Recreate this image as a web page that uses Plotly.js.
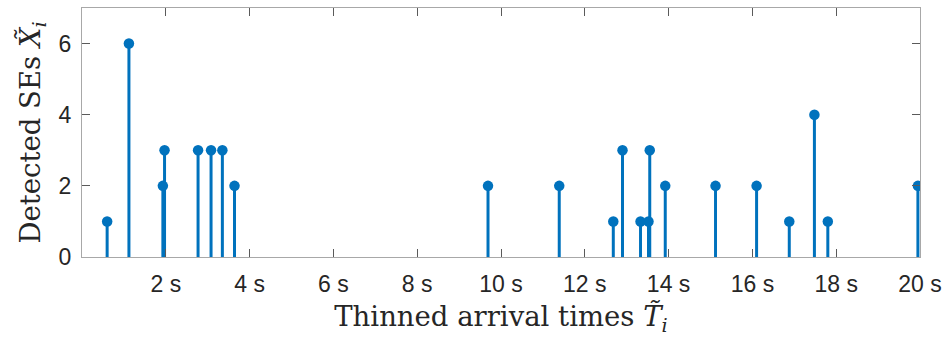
<!DOCTYPE html>
<html>
<head>
<meta charset="utf-8">
<script src="https://cdn.plot.ly/plotly-3.0.1.min.js"></script>
<style>
  html, body { margin: 0; padding: 0; background: #ffffff; }
  #chart { width: 946px; height: 337px; }
</style>
</head>
<body>
<div id="chart"></div>
<script>
// Thinned arrival times (s) and the number of detected SEs at each arrival
const arrivalTimes = [0.60, 1.12, 1.93, 1.97, 2.77, 3.08, 3.35, 3.64, 9.69, 11.39,
                      12.68, 12.90, 13.33, 13.52, 13.55, 13.92, 15.12, 16.10, 16.88,
                      17.48, 17.80, 19.95];
const detectedSEs  = [1, 6, 2, 3, 3, 3, 3, 2, 2, 2,
                      1, 3, 1, 1, 3, 2, 2, 2, 1,
                      4, 1, 2];

const xTickVals = [2, 4, 6, 8, 10, 12, 14, 16, 18, 20];
const xTickText = ['2 s', '4 s', '6 s', '8 s', '10 s', '12 s', '14 s', '16 s', '18 s', '20 s'];
const yTickVals = [0, 2, 4, 6];

const stemColor = '#0072BD';

// stems: a vertical segment from the baseline up to each value
const stemX = [], stemY = [];
arrivalTimes.forEach((t, i) => {
  stemX.push(t, t, null);
  stemY.push(0, detectedSEs[i], null);
});

const traces = [
  {
    type: 'scatter', mode: 'lines',
    x: stemX, y: stemY,
    line: { color: stemColor, width: 3 },
    hoverinfo: 'skip', showlegend: false
  },
  {
    type: 'scatter', mode: 'markers',
    x: arrivalTimes, y: detectedSEs,
    marker: { color: stemColor, size: 10.5, line: { width: 0 } },
    showlegend: false
  }
];

const tickFont = { family: 'Liberation Sans, Arial, sans-serif', size: 23, color: '#262626' };
const titleFont = { family: 'DejaVu Serif, serif', size: 27.5, color: '#262626' };

const layout = {
  width: 946, height: 337,
  margin: { l: 82, r: 26, t: 8, b: 80 },
  paper_bgcolor: '#ffffff', plot_bgcolor: '#ffffff',
  showlegend: false,
  xaxis: {
    range: [0, 20],
    tickvals: xTickVals, ticktext: xTickText,
    ticks: 'inside', ticklen: 8, tickwidth: 1, tickcolor: '#5a5a5a',
    showline: true, linecolor: '#a8a8a8', linewidth: 1,
    mirror: 'allticks',
    showgrid: false, zeroline: false,
    tickfont: tickFont,
    ticklabelstandoff: 6,
    title: { text: 'Thinned arrival times <i>T\u0303</i><sub><i>i</i></sub>', font: titleFont, standoff: 14 }
  },
  yaxis: {
    range: [0, 7],
    tickvals: yTickVals,
    ticks: 'inside', ticklen: 8, tickwidth: 1, tickcolor: '#5a5a5a',
    showline: true, linecolor: '#a8a8a8', linewidth: 1,
    mirror: 'allticks',
    showgrid: false, zeroline: false,
    tickfont: tickFont,
    ticklabelstandoff: 5,
    title: { text: 'Detected SEs <i>X\u0303</i><sub><i>i</i></sub>', font: titleFont, standoff: 9 }
  }
};

Plotly.newPlot('chart', traces, layout, { displayModeBar: false, staticPlot: true });
</script>
</body>
</html>
